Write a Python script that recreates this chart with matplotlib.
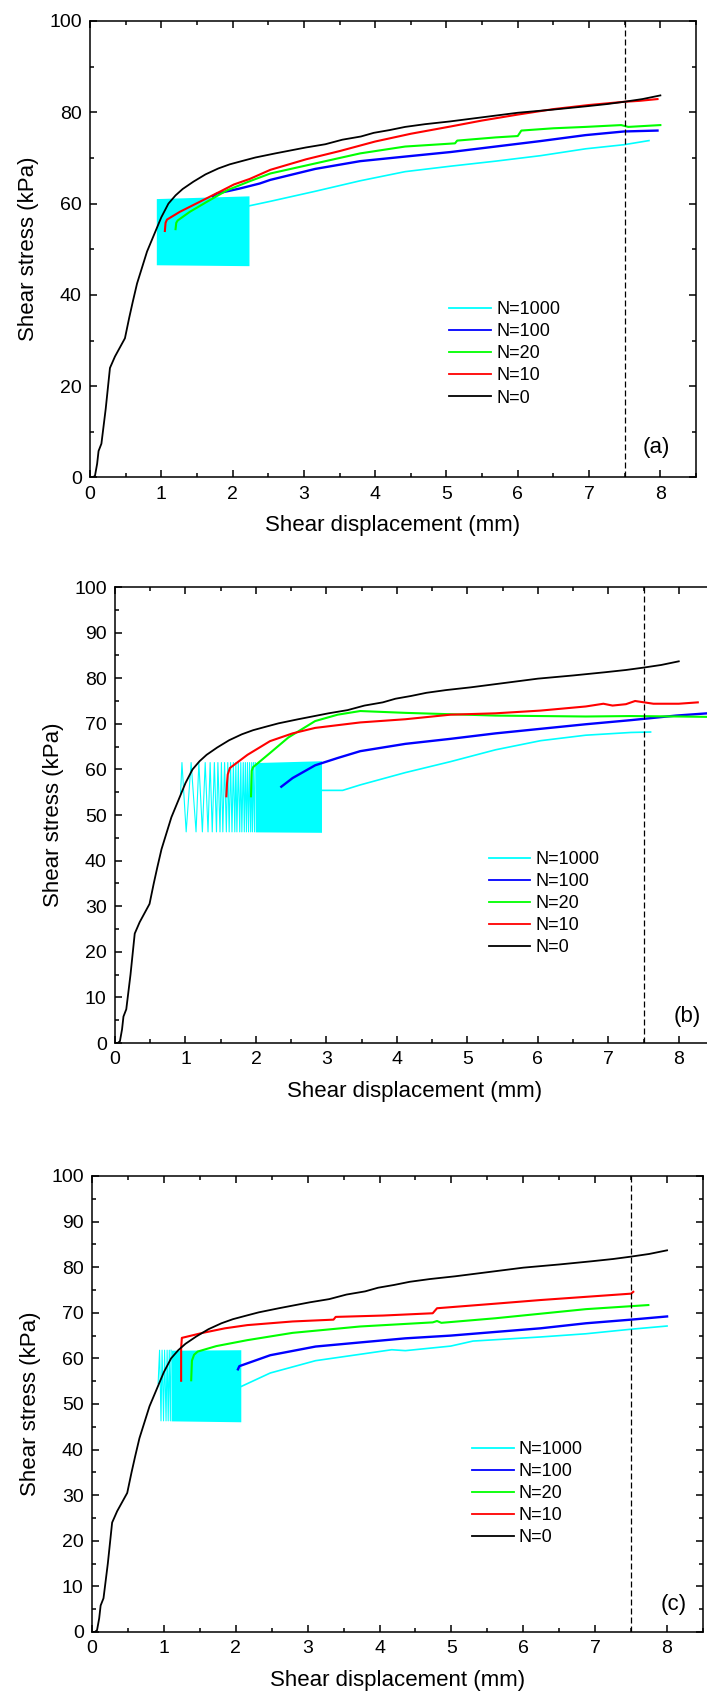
import matplotlib
matplotlib.use("Agg")
import matplotlib.pyplot as plt
from matplotlib.ticker import MultipleLocator

plt.rcParams['font.family'] = ['Liberation Sans', 'DejaVu Sans']

# ---------------- data ----------------
labels = ["N=1000", "N=100", "N=20", "N=10", "N=0"]
colors = ["#00FFFF", "#0000FF", "#00FF00", "#FF0000", "#000000"]
panel_tags = ["(a)", "(b)", "(c)"]

# N=0 (monotonic test, same in all panels)
n0_x = [0.0, 0.04, 0.07, 0.1, 0.12, 0.16, 0.22, 0.28, 0.35, 0.42, 0.49, 0.55, 0.6, 0.66,
        0.73, 0.8, 0.92, 1.0, 1.1, 1.2, 1.3, 1.45, 1.62, 1.8, 1.96, 2.15, 2.32, 2.6, 3.03,
        3.3, 3.54, 3.8, 3.98, 4.2, 4.42, 4.7, 5.05, 5.5, 6.0, 6.5, 6.95, 7.25, 7.49, 7.75, 8.0]
n0_y = [0.0, 0.0, 0.4, 3.0, 5.8, 7.4, 15.0, 24.0, 26.5, 28.5, 30.5, 35.0, 38.5, 42.5,
        46.0, 49.5, 54.0, 57.0, 60.0, 61.8, 63.2, 64.8, 66.4, 67.7, 68.6, 69.4, 70.1, 71.0, 72.3,
        73.0, 74.0, 74.7, 75.5, 76.1, 76.8, 77.4, 78.0, 78.9, 79.9, 80.6, 81.3, 81.8, 82.3, 82.9, 83.7]

# ---- panel (a) ----
a_n10_x = [1.05, 1.06, 1.08, 1.26, 1.54, 1.82, 2.02, 2.24, 2.53, 3.03, 3.5, 4.0, 4.5, 5.06,
           5.5, 6.0, 6.5, 7.0, 7.49, 7.7, 7.96]
a_n10_y = [54.0, 55.8, 56.5, 58.2, 60.4, 62.6, 64.2, 65.4, 67.4, 69.7, 71.5, 73.6, 75.3, 76.9,
           78.2, 79.5, 80.7, 81.6, 82.3, 82.5, 82.9]
a_n20_x = [1.2, 1.21, 1.23, 1.4, 1.64, 1.92, 2.24, 2.53, 3.16, 3.79, 4.42, 5.12, 5.15, 5.69,
           6.0, 6.05, 6.5, 6.95, 7.45, 7.55, 8.0]
a_n20_y = [54.4, 55.8, 56.3, 58.2, 60.4, 62.9, 64.9, 66.6, 68.8, 71.0, 72.5, 73.2, 73.8, 74.5,
           74.8, 76.0, 76.5, 76.8, 77.2, 76.8, 77.2]
a_n100_x = [1.72, 1.78, 2.1, 2.38, 2.53, 3.16, 3.79, 4.42, 5.06, 5.69, 6.32, 6.95, 7.49, 7.96]
a_n100_y = [61.6, 62.2, 63.3, 64.4, 65.2, 67.6, 69.3, 70.3, 71.3, 72.5, 73.7, 75.0, 75.8, 76.0]
a_n1000_x = [2.23, 2.53, 3.16, 3.79, 4.42, 5.06, 5.69, 6.32, 6.95, 7.49, 7.84]
a_n1000_y = [59.5, 60.5, 62.7, 65.0, 67.0, 68.2, 69.3, 70.5, 72.0, 72.9, 73.8]
a_block_x = [0.93, 2.23]          # dense cyclic loading band
a_block_lo = [46.6, 46.4]
a_block_hi = [61.1, 61.7]
a_zig_peaks = []
a_zig_troughs = []

# ---- panel (b) ----
b_n10_x = [1.58, 1.59, 1.6, 1.63, 1.88, 2.2, 2.52, 2.84, 3.48, 4.12, 4.76, 5.4, 6.04, 6.68,
           6.93, 7.06, 7.25, 7.38, 7.64, 8.0, 8.27]
b_n10_y = [54.1, 57.0, 58.9, 60.3, 63.2, 66.2, 67.9, 69.1, 70.3, 71.0, 72.0, 72.3, 72.9, 73.8,
           74.4, 74.0, 74.3, 75.0, 74.4, 74.4, 74.7]
b_n20_x = [1.93, 1.94, 1.96, 2.2, 2.46, 2.84, 3.16, 3.48, 4.12, 4.76, 5.4, 6.04, 6.68, 7.32, 8.0, 8.5]
b_n20_y = [54.1, 59.7, 60.5, 63.6, 67.0, 70.6, 72.0, 72.8, 72.4, 72.1, 71.8, 71.7, 71.6, 71.7, 71.6, 71.5]
b_n100_x = [2.36, 2.52, 2.84, 3.16, 3.48, 4.12, 4.76, 5.4, 6.04, 6.68, 7.32, 7.96, 8.5]
b_n100_y = [56.2, 58.1, 60.9, 62.5, 64.0, 65.6, 66.7, 67.9, 68.9, 69.9, 70.8, 71.8, 72.4]
b_n1000_x = [2.93, 3.23, 3.48, 4.12, 4.76, 5.4, 6.04, 6.68, 7.32, 7.6]
b_n1000_y = [55.4, 55.4, 56.6, 59.3, 61.7, 64.3, 66.3, 67.5, 68.1, 68.2]
b_block_x = [1.99, 2.93]
b_block_lo = [46.3, 46.2]
b_block_hi = [61.5, 61.9]
b_zig_peaks = [0.95, 1.08, 1.19, 1.28, 1.35, 1.41, 1.46, 1.51, 1.555, 1.60, 1.64, 1.68,
               1.715, 1.75, 1.785, 1.82, 1.85, 1.88, 1.91, 1.94, 1.965]
b_zig_troughs = [1.01, 1.15, 1.24, 1.32, 1.38, 1.44, 1.49, 1.53, 1.58, 1.62, 1.66, 1.70,
                 1.73, 1.77, 1.80, 1.835, 1.865, 1.895, 1.925, 1.95, 1.98]

# ---- panel (c) ----
c_n10_x = [1.24, 1.24, 1.25, 1.54, 1.85, 2.16, 2.79, 3.36, 3.39, 4.05, 4.74, 4.8, 5.61,
           6.24, 6.87, 7.5, 7.53]
c_n10_y = [55.1, 62.3, 64.5, 65.6, 66.6, 67.3, 68.1, 68.5, 69.1, 69.4, 69.9, 71.0, 72.0,
           72.8, 73.5, 74.2, 74.6]
c_n20_x = [1.38, 1.39, 1.42, 1.47, 1.73, 2.16, 2.79, 3.73, 4.74, 4.8, 4.86, 5.61, 6.24, 6.87, 7.74]
c_n20_y = [55.2, 59.5, 60.8, 61.5, 62.7, 64.0, 65.6, 67.0, 67.9, 68.2, 67.8, 68.8, 69.8, 70.8, 71.7]
c_n100_x = [2.03, 2.05, 2.48, 3.11, 3.73, 4.36, 4.99, 5.61, 6.24, 6.87, 7.5, 8.0]
c_n100_y = [57.6, 58.3, 60.7, 62.6, 63.5, 64.4, 65.0, 65.8, 66.6, 67.7, 68.5, 69.2]
c_n1000_x = [2.07, 2.48, 3.11, 3.73, 4.17, 4.36, 4.99, 5.3, 6.24, 6.87, 7.5, 8.0]
c_n1000_y = [53.8, 56.8, 59.5, 60.9, 61.9, 61.7, 62.7, 63.8, 64.7, 65.4, 66.4, 67.1]
c_block_x = [1.1, 2.07]
c_block_lo = [46.3, 46.1]
c_block_hi = [61.8, 61.9]
c_zig_peaks = [0.94, 0.975, 1.01, 1.045, 1.075]
c_zig_troughs = [0.96, 0.995, 1.03, 1.06, 1.09]

vline_x = 7.5

panels = [
    dict(n10=(a_n10_x, a_n10_y), n20=(a_n20_x, a_n20_y), n100=(a_n100_x, a_n100_y),
         n1000=(a_n1000_x, a_n1000_y), block=(a_block_x, a_block_lo, a_block_hi),
         zig=(a_zig_peaks, a_zig_troughs)),
    dict(n10=(b_n10_x, b_n10_y), n20=(b_n20_x, b_n20_y), n100=(b_n100_x, b_n100_y),
         n1000=(b_n1000_x, b_n1000_y), block=(b_block_x, b_block_lo, b_block_hi),
         zig=(b_zig_peaks, b_zig_troughs)),
    dict(n10=(c_n10_x, c_n10_y), n20=(c_n20_x, c_n20_y), n100=(c_n100_x, c_n100_y),
         n1000=(c_n1000_x, c_n1000_y), block=(c_block_x, c_block_lo, c_block_hi),
         zig=(c_zig_peaks, c_zig_troughs)),
]

# ---------------- layout ----------------
W, H = 707, 1702
fig = plt.figure(figsize=(W / 100, H / 100), dpi=100)

# pixel boxes: left, top, right, bottom
boxes = [(90, 21, 696, 477.5), (115, 587, 714, 1043), (92, 1176, 703, 1632)]
ymajor = [20, 10, 10]
yminor = [10, 5, 5]
leg_anchor = [(0.593, 0.386), (0.624, 0.421), (0.622, 0.419)]
tag_pos = [(7.94, 6.6), (8.12, 5.8), (8.09, 6.0)]

for i, (box, p) in enumerate(zip(boxes, panels)):
    l, t, r, b = box
    ax = fig.add_axes([l / W, 1 - b / H, (r - l) / W, (b - t) / H])
    ax.set_xlim(0, 8.5)
    ax.set_ylim(0, 100)

    # N=1000: zigzag start, dense band, then post-cycling curve
    peaks, troughs = p['zig']
    bx, blo, bhi = p['block']
    hi_top = bhi[0]
    lo_bot = blo[0]
    if peaks:
        zx = [peaks[0] - 0.02]
        zy = [54.5]
        for pk, tr in zip(peaks, troughs):
            zx += [pk, tr]
            zy += [hi_top, lo_bot]
        zx.append(bx[0])
        zy.append(hi_top)
        ax.plot(zx, zy, color=colors[0], lw=0.8, zorder=1)
    ax.fill_between(bx, blo, bhi, color=colors[0], lw=0, zorder=1)
    ax.plot(*p['n1000'], color=colors[0], lw=1.2, label=labels[0], zorder=2)
    ax.plot(*p['n100'], color=colors[1], lw=1.7, label=labels[1], zorder=3)
    ax.plot(*p['n20'], color=colors[2], lw=1.5, label=labels[2], zorder=4)
    ax.plot(*p['n10'], color=colors[3], lw=1.5, label=labels[3], zorder=5)
    ax.plot(n0_x, n0_y, color=colors[4], lw=1.3, label=labels[4], zorder=6)

    ax.axvline(vline_x, color='black', lw=0.9, dashes=(4.8, 2.4), zorder=7)

    ax.xaxis.set_major_locator(MultipleLocator(1))
    ax.xaxis.set_minor_locator(MultipleLocator(0.5))
    ax.yaxis.set_major_locator(MultipleLocator(ymajor[i]))
    ax.yaxis.set_minor_locator(MultipleLocator(yminor[i]))
    ax.tick_params(which='both', direction='in', top=True, right=True, width=1.1,
                   labelsize=14, pad=6)
    ax.tick_params(which='major', length=5)
    ax.tick_params(which='minor', length=3)
    for s in ax.spines.values():
        s.set_linewidth(1.1)

    ax.set_xlabel("Shear displacement (mm)", fontsize=16, labelpad=9)
    ax.set_ylabel("Shear stress (kPa)", fontsize=16, labelpad=7)

    leg = ax.legend(loc='upper left', bbox_to_anchor=leg_anchor[i], frameon=False,
                    fontsize=13, borderpad=0, borderaxespad=0, handlelength=2.3,
                    handletextpad=0.3, labelspacing=0.28)
    for ln in leg.get_lines():
        ln.set_linewidth(1.3)
    ax.text(tag_pos[i][0], tag_pos[i][1], panel_tags[i], fontsize=16,
            ha='center', va='center')

fig.savefig("out.png", dpi=100)
